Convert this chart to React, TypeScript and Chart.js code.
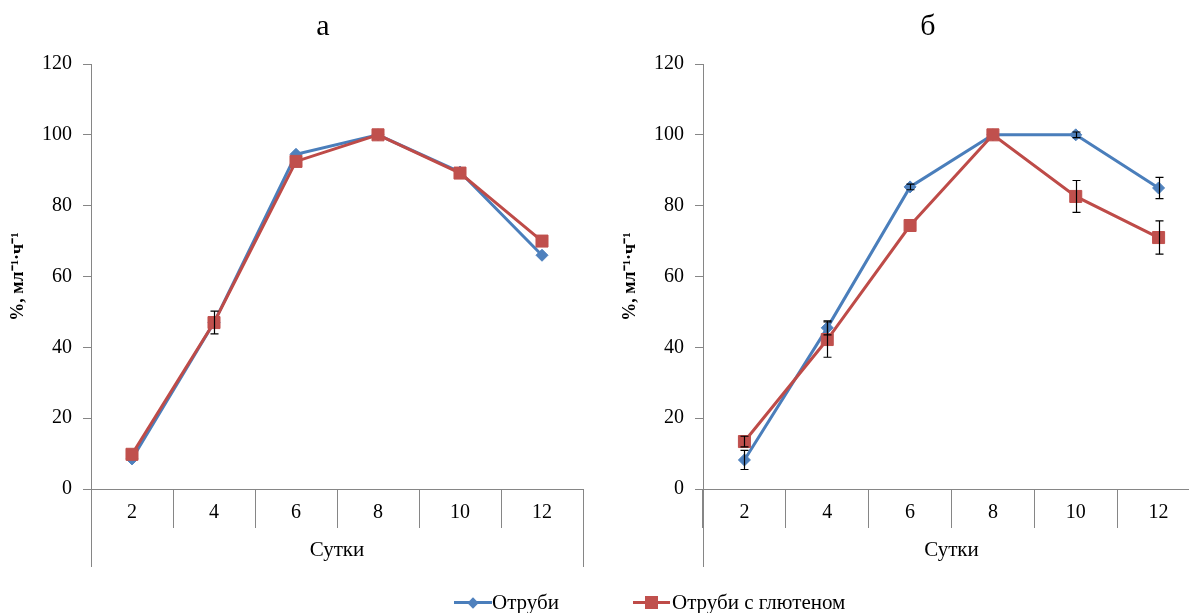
import React, { useEffect, useRef } from 'react';
import { Chart, registerables } from 'chart.js';

Chart.register(...registerables);

// ---------- data ----------
const days = ['2', '4', '6', '8', '10', '12'];
const yTicks = [0, 20, 40, 60, 80, 100, 120];
const seriesNames = ['Отруби', 'Отруби с глютеном'];
const panelTitles = ['а', 'б'];
const xTitle = 'Сутки';
const yTitle = '%, мл⁻¹·ч⁻¹';

// panel а
const aBran = [8.5, 47, 94.5, 100, 89.5, 66];
const aBranErr = [0, 0, 0, 0, 0, 0];
const aGluten = [9.8, 47, 92.5, 100, 89.2, 70];
const aGlutenErr = [0, 3.2, 0, 0, 0, 0];

// panel б
const bBran = [8.2, 45.5, 85.3, 100, 100, 85];
const bBranErr = [2.7, 2, 0.8, 0, 0.8, 3];
const bGluten = [13.4, 42.2, 74.4, 100, 82.6, 71];
const bGlutenErr = [1.5, 5, 0, 0, 4.5, 4.7];

// ---------- styles ----------
const FONT = '"Liberation Serif", "Times New Roman", serif';
const AXIS = '#868686';
const BLUE_LINE = '#4A7EBB';
const BLUE_FILL = '#4F81BD';
const RED_LINE = '#BE4B48';
const RED_FILL = '#C0504D';

const errorBars = {
  id: 'errorBars',
  afterDatasetsDraw(chart: any) {
    const { ctx } = chart;
    const y = chart.scales.y;
    chart.data.datasets.forEach((ds: any, di: number) => {
      const errs = ds.errors;
      if (!errs) return;
      const meta = chart.getDatasetMeta(di);
      ctx.save();
      ctx.strokeStyle = '#000';
      ctx.lineWidth = 1.2;
      meta.data.forEach((pt: any, i: number) => {
        const e = errs[i];
        if (!e) return;
        const v = ds.data[i];
        const top = y.getPixelForValue(v + e);
        const bot = y.getPixelForValue(v - e);
        const x = Math.round(pt.x) + 0.5;
        ctx.beginPath();
        ctx.moveTo(x, top);
        ctx.lineTo(x, bot);
        ctx.moveTo(x - 4, top);
        ctx.lineTo(x + 4, top);
        ctx.moveTo(x - 4, bot);
        ctx.lineTo(x + 4, bot);
        ctx.stroke();
      });
      ctx.restore();
    });
  },
};

const outerSeparators = {
  id: 'outerSeparators',
  afterDraw(chart: any) {
    const { ctx, chartArea } = chart;
    const x = chart.scales.x;
    ctx.save();
    ctx.strokeStyle = AXIS;
    ctx.lineWidth = 1;
    [chartArea.left, chartArea.right].forEach((px: number) => {
      const xx = Math.round(px) + 0.5;
      ctx.beginPath();
      ctx.moveTo(xx, chartArea.bottom);
      ctx.lineTo(xx, x.bottom);
      ctx.stroke();
    });
    ctx.restore();
  },
};

type PanelProps = {
  title: string;
  bran: number[];
  branErr: number[];
  gluten: number[];
  glutenErr: number[];
  left: number;
  width: number;
  padRight: number;
};

function Panel({ title, bran, branErr, gluten, glutenErr, left, width, padRight }: PanelProps) {
  const ref = useRef<HTMLCanvasElement | null>(null);
  useEffect(() => {
    if (!ref.current) return;
    const chart = new Chart(ref.current, {
      type: 'line',
      data: {
        labels: days,
        datasets: [
          {
            label: seriesNames[0],
            data: bran,
            errors: branErr,
            yAxisID: 'y',
            borderColor: BLUE_LINE,
            backgroundColor: BLUE_FILL,
            borderWidth: 3,
            tension: 0,
            pointStyle: 'rectRot',
            pointRadius: 6,
            pointBorderWidth: 1,
            pointBackgroundColor: BLUE_FILL,
            pointBorderColor: BLUE_FILL,
            order: 1,
          } as any,
          {
            label: seriesNames[1],
            data: gluten,
            errors: glutenErr,
            yAxisID: 'y',
            borderColor: RED_LINE,
            backgroundColor: RED_FILL,
            borderWidth: 3,
            tension: 0,
            pointStyle: 'rect',
            pointRadius: 8.5,
            pointBorderWidth: 1,
            pointBackgroundColor: RED_FILL,
            pointBorderColor: RED_FILL,
            order: 0,
          } as any,
        ],
      },
      options: {
        animation: false,
        responsive: false,
        maintainAspectRatio: false,
        events: [],
        layout: { padding: { left: 0, right: 0, top: 0, bottom: 46 } },
        plugins: {
          legend: { display: false },
          tooltip: { enabled: false },
          title: {
            display: true,
            text: title,
            color: '#000',
            font: { family: FONT, size: 30, weight: 'normal' },
            padding: { top: 9, bottom: 19 },
          },
        },
        scales: {
          x: {
            type: 'category',
            offset: true,
            grid: {
              display: true,
              offset: true,
              drawOnChartArea: false,
              drawTicks: true,
              tickLength: 39,
              color: AXIS,
              lineWidth: 1,
            },
            border: { display: true, color: AXIS, width: 1 },
            ticks: {
              color: '#000',
              font: { family: FONT, size: 20 },
              padding: -27,
              maxRotation: 0,
              autoSkip: false,
            },
            title: {
              display: true,
              text: xTitle,
              color: '#000',
              font: { family: FONT, size: 21 },
              padding: { top: 0, bottom: 4 },
            },
            afterFit: (s: any) => {
              s.height = 78;
            },
          },
          y: {
            position: 'left',
            min: 0,
            max: 120,
            afterBuildTicks: (s: any) => {
              s.ticks = yTicks.map((v) => ({ value: v }));
            },
            grid: {
              drawOnChartArea: false,
              drawTicks: true,
              tickLength: 8,
              color: AXIS,
            },
            border: { display: true, color: AXIS, width: 1 },
            ticks: {
              color: '#000',
              font: { family: FONT, size: 20 },
              padding: 11,
            },
            title: {
              display: true,
              text: yTitle,
              color: '#000',
              font: { family: FONT, size: 18, weight: 'bold' },
              padding: { top: 8, bottom: 0 },
            },
            afterFit: (s: any) => {
              s.width = 91;
            },
          },
          yPad: {
            type: 'linear',
            position: 'right',
            display: true,
            grid: { display: false, drawTicks: false },
            border: { display: false },
            ticks: { display: false },
            title: { display: false },
            afterFit: (s: any) => {
              s.width = padRight;
            },
          },
        },
      } as any,
      plugins: [errorBars, outerSeparators],
    });
    return () => chart.destroy();
  }, []);
  return (
    <canvas
      ref={ref}
      width={width}
      height={613}
      style={{ position: 'absolute', left, top: 0, width, height: 613 }}
    />
  );
}

export default function App() {
  return (
    <div
      style={{
        position: 'absolute',
        left: 0,
        top: 0,
        width: 1189,
        height: 613,
        overflow: 'hidden',
        background: '#fff',
        fontFamily: FONT,
      }}
    >
      <Panel
        title={panelTitles[0]}
        bran={aBran}
        branErr={aBranErr}
        gluten={aGluten}
        glutenErr={aGlutenErr}
        left={0}
        width={646}
        padRight={63}
      />
      <Panel
        title={panelTitles[1]}
        bran={bBran}
        branErr={bBranErr}
        gluten={bGluten}
        glutenErr={bGlutenErr}
        left={612}
        width={632}
        padRight={44}
      />
      {/* legend */}
      <div style={{ position: 'absolute', left: 454, top: 601, width: 38, height: 3, background: BLUE_LINE }} />
      <div
        style={{
          position: 'absolute',
          left: 469,
          top: 598.5,
          width: 8,
          height: 8,
          background: BLUE_FILL,
          transform: 'rotate(45deg)',
        }}
      />
      <div style={{ position: 'absolute', left: 492, top: 590, fontSize: 21, lineHeight: '24px', color: '#000', whiteSpace: 'nowrap' }}>
        {seriesNames[0]}
      </div>
      <div style={{ position: 'absolute', left: 633, top: 601, width: 37, height: 3, background: RED_LINE }} />
      <div style={{ position: 'absolute', left: 645, top: 596, width: 13, height: 13, background: RED_FILL }} />
      <div style={{ position: 'absolute', left: 672, top: 590, fontSize: 21, lineHeight: '24px', color: '#000', whiteSpace: 'nowrap' }}>
        {seriesNames[1]}
      </div>
    </div>
  );
}
